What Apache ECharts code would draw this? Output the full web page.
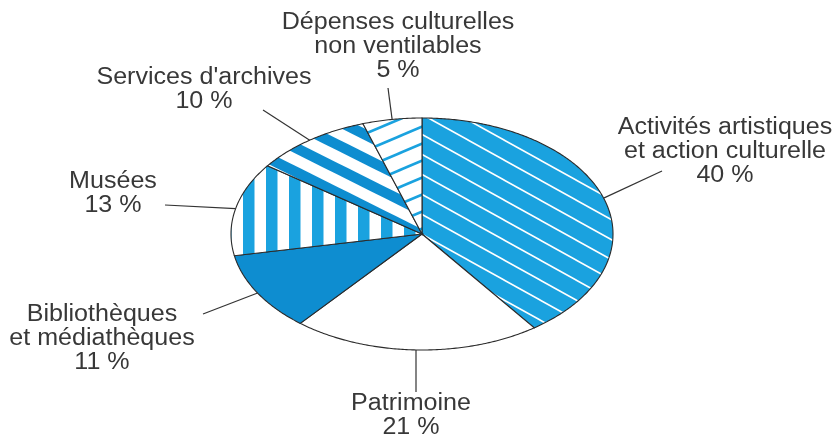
<!DOCTYPE html>
<html>
<head>
<meta charset="utf-8">
<script src="https://cdn.jsdelivr.net/npm/echarts@6/dist/echarts.min.js"></script>
<style>
html,body{margin:0;padding:0;background:#fff;}
#chart{width:837px;height:434px;}
</style>
</head>
<body>
<div id="chart"></div>
<script>
// ---- data ----
const categories = [
  'Activités artistiques\net action culturelle',
  'Patrimoine',
  'Bibliothèques\net médiathèques',
  'Musées',
  "Services d'archives",
  'Dépenses culturelles\nnon ventilables'
];
const values = [40, 21, 11, 13, 10, 5];

// ---- styles / layout (not data) ----
const LIGHT = '#1aa2df';
const DARK = '#0e8dd0';

function diagTile(bg, fg, P, W, dir, lw) {
  const c = document.createElement('canvas');
  c.width = W; c.height = P;
  const g = c.getContext('2d');
  g.fillStyle = bg; g.fillRect(0, 0, W, P);
  g.strokeStyle = fg; g.lineWidth = lw;
  const s = dir * P / W;
  for (let k = -4; k <= 4; k++) {
    g.beginPath();
    g.moveTo(-W, s * -W + k * P);
    g.lineTo(2 * W, s * 2 * W + k * P);
    g.stroke();
  }
  return {image: c, repeat: 'repeat'};
}
function vertTile(bg, fg, W, bw, off) {
  const c = document.createElement('canvas');
  c.width = W; c.height = 4;
  const g = c.getContext('2d');
  g.fillStyle = bg; g.fillRect(0, 0, W, 4);
  g.fillStyle = fg;
  g.fillRect(off, 0, bw, 4);
  g.fillRect(off - W, 0, bw, 4);
  return {image: c, repeat: 'repeat'};
}

const fills = [
  diagTile(LIGHT, '#ffffff', 20, 36, 1, 1.6),     // Activités
  '#ffffff',                                      // Patrimoine
  DARK,                                           // Bibliothèques
  vertTile('#ffffff', LIGHT, 23, 11.5, 13),       // Musées
  diagTile('#ffffff', DARK, 24, 48, 1, 10.5),     // Archives
  diagTile('#ffffff', LIGHT, 17, 40, -1, 2.6)     // Dépenses
];

const labelLayout = [
  {x: 725, y: 152, lx: 662, ly: 171},
  {x: 411, y: 416, lx: null, ly: 392},
  {x: 102, y: 339, lx: 203, ly: 314},
  {x: 113, y: 194, lx: 165, ly: 205},
  {x: 204, y: 90,  lx: 263, ly: 110},
  {x: 398, y: 47,  lx: 388, ly: 88}
];

const total = values.reduce((a, b) => a + b, 0);
const cum = [];
values.reduce((acc, v, i) => { cum[i] = acc; return acc + v; }, 0);

function renderItem(params, api) {
  const i = params.dataIndex;
  const v = api.value(1);
  const t0 = cum[i] / total * Math.PI * 2;
  const t1 = (cum[i] + v) / total * Math.PI * 2;
  const n = Math.max(8, Math.ceil((t1 - t0) / 0.01));
  const pts = [api.coord([0, 0])];
  for (let k = 0; k <= n; k++) {
    const t = t0 + (t1 - t0) * k / n;
    pts.push(api.coord([Math.sin(t), Math.cos(t)]));
  }
  const tm = (t0 + t1) / 2;
  const anchor = api.coord([Math.sin(tm), Math.cos(tm)]);
  const L = labelLayout[i];
  const lx = L.lx == null ? anchor[0] : L.lx;
  return {
    type: 'group',
    children: [
      {
        type: 'polygon',
        shape: {points: pts},
        style: {fill: fills[i], stroke: '#2b2b2b', lineWidth: 1.1}
      },
      {
        type: 'line',
        shape: {x1: anchor[0], y1: anchor[1], x2: lx, y2: L.ly},
        style: {stroke: '#333', lineWidth: 1.2}
      },
      {
        type: 'text',
        x: L.x, y: L.y,
        scaleX: 1.09,
        style: {
          text: categories[i] + '\n' + v + ' %',
          align: 'center',
          verticalAlign: 'middle',
          font: '23px "Liberation Sans", Arial, sans-serif',
          lineHeight: 24,
          fill: '#383838'
        }
      }
    ]
  };
}

const chart = echarts.init(document.getElementById('chart'));
chart.setOption({
  animation: false,
  grid: {left: 231, top: 118, width: 382, height: 232},
  xAxis: {type: 'value', min: -1, max: 1, show: false},
  yAxis: {type: 'value', min: -1, max: 1, show: false},
  series: [{
    type: 'custom',
    renderItem: renderItem,
    clip: false,
    data: values.map((v, i) => [i, v])
  }]
});
</script>
</body>
</html>
